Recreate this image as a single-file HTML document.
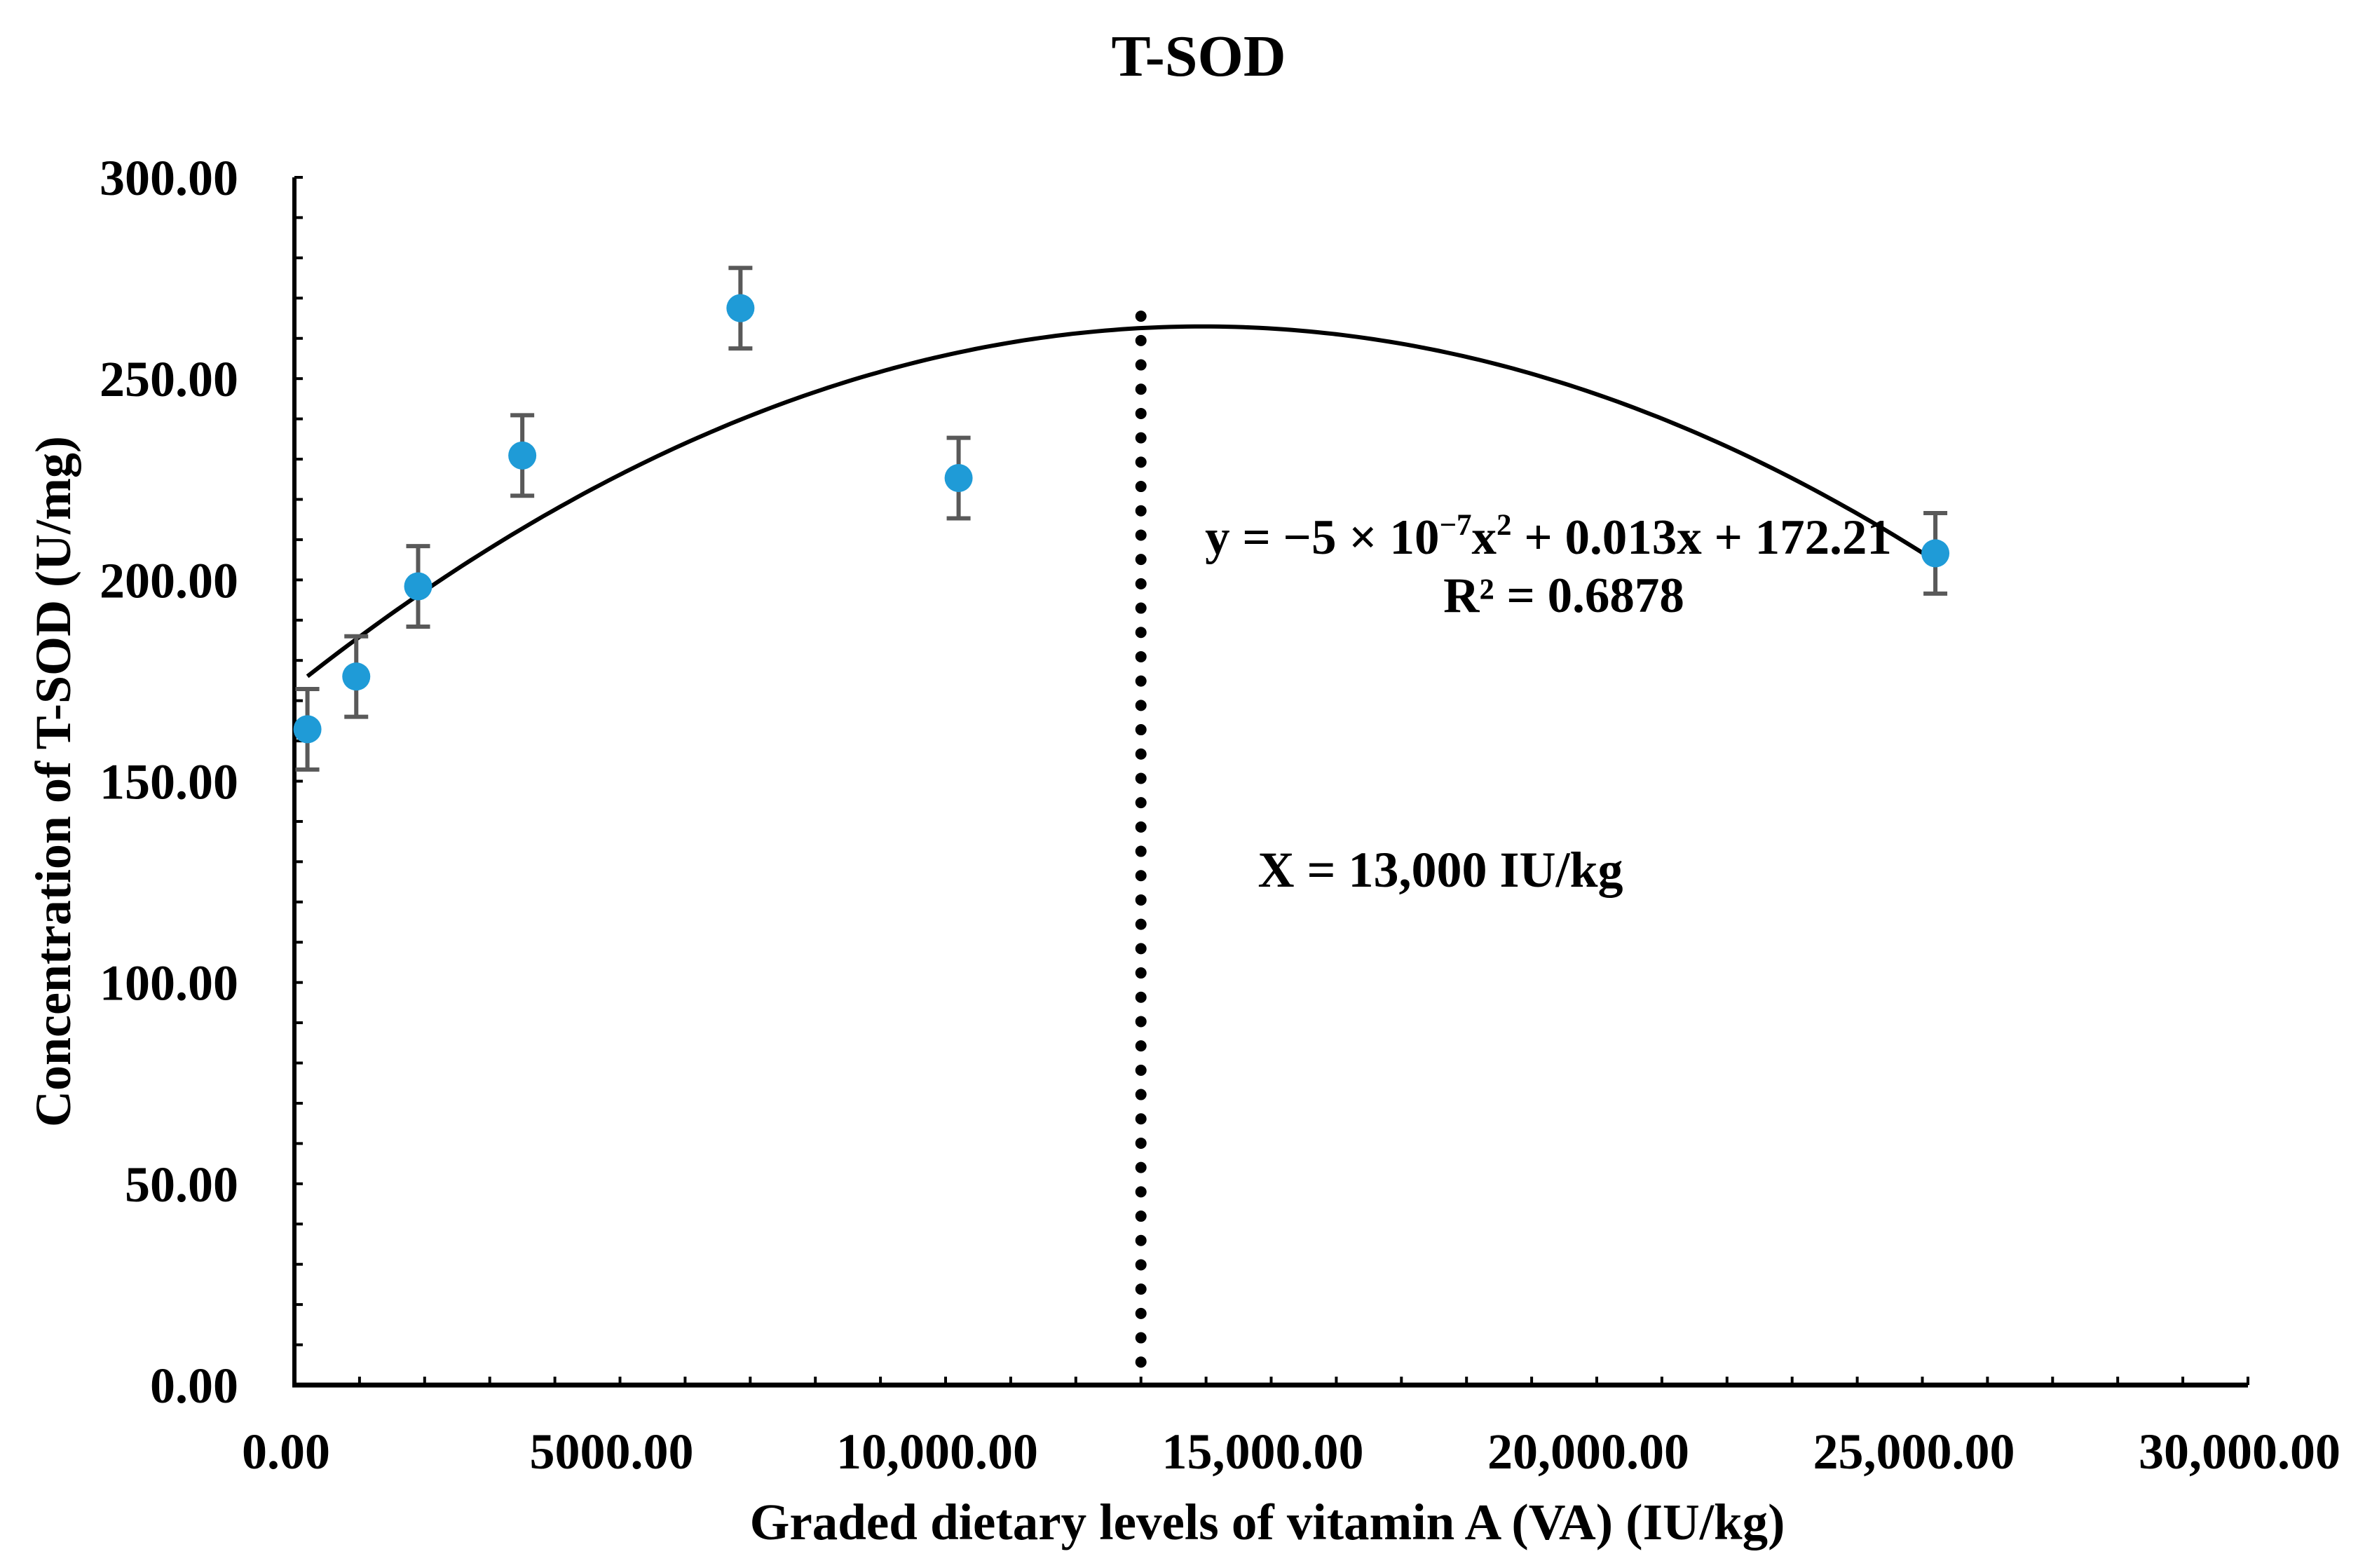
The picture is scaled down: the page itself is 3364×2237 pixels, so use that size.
<!DOCTYPE html>
<html><head><meta charset="utf-8">
<style>
html,body{margin:0;padding:0;background:#fff;}
svg{display:block;}
text{font-family:"Liberation Serif",serif;font-weight:bold;fill:#000;}
</style></head>
<body>
<svg id="chart" width="3364" height="2237" viewBox="0 0 3364 2237" xmlns="http://www.w3.org/2000/svg">
<text x="1710" y="108" font-size="84" text-anchor="middle">T-SOD</text>
<g id="axes"></g>
<g id="marks"></g>
<text x="1808" y="2196" font-size="73" text-anchor="middle">Graded dietary levels of vitamin A (VA) (IU/kg)</text>
<text transform="translate(100,1115) rotate(-90)" font-size="72" text-anchor="middle">Concentration of T-SOD (U/mg)</text>
<text x="2209" y="790" font-size="71" text-anchor="middle">y = −5 × 10<tspan font-size="43" dy="-27">−7</tspan><tspan dy="27">x</tspan><tspan font-size="43" dy="-27">2</tspan><tspan dy="27"> + 0.013x + 172.21</tspan></text>
<text x="2231" y="873" font-size="71" text-anchor="middle">R² = 0.6878</text>
<text x="2055" y="1265" font-size="72" text-anchor="middle">X = 13,000 IU/kg</text>
</svg>
<script>
const xValues = [200, 950, 1900, 3500, 6850, 10200, 25200];
const yValues = [162.9, 176.0, 198.4, 230.9, 267.5, 225.3, 206.6];
const yErrors = [10, 10, 10, 10, 10, 10, 10];
const yTicks = [0, 50, 100, 150, 200, 250, 300];
const yTickLabels = ["0.00","50.00","100.00","150.00","200.00","250.00","300.00"];
const xTicks = [0, 5000, 10000, 15000, 20000, 25000, 30000];
const xTickLabels = ["0.00","5000.00","10,000.00","15,000.00","20,000.00","25,000.00","30,000.00"];
const trendCoef = [-4.6e-7, 0.01283, 173.5];
const trendRange = [200, 25200];
const optimumX = [13000];
const optimumTop = [265.5];

const NS = "http://www.w3.org/2000/svg";
const X0 = 420, X1 = 3207, Y0 = 1976, Y1 = 253;
const sx = v => X0 + (v / 30000) * (X1 - X0);
const sy = v => Y0 - (v / 300) * (Y0 - Y1);
function mk(tag, attrs, parent) {
  const e = document.createElementNS(NS, tag);
  for (const k in attrs) e.setAttribute(k, attrs[k]);
  parent.appendChild(e);
  return e;
}
const axes = document.getElementById('axes');
const marks = document.getElementById('marks');

let el = mk('line', {x1: X0, y1: Y1, x2: X0, y2: Y0 + 3, stroke: '#000', 'stroke-width': 6}, axes);


el = mk('line', {x1: X0 - 3, y1: Y0, x2: X1, y2: Y0, stroke: '#000', 'stroke-width': 7}, axes);



for (let v = 0; v <= 300; v += 10) {
  const t = mk('line', {x1: X0, y1: sy(v), x2: X0 + 12, y2: sy(v), stroke: '#000', 'stroke-width': 4}, axes);
  
  
}
for (let v = 1000; v <= 30000; v += 1000) {
  const t = mk('line', {x1: sx(v), y1: Y0, x2: sx(v), y2: Y0 - 12, stroke: '#000', 'stroke-width': 4}, axes);
  
  
}
yTicks.forEach((v, i) => {
  const t = mk('text', {x: 340, y: sy(v) + 25, 'font-size': 72, 'text-anchor': 'end'}, axes);
  t.textContent = yTickLabels[i];
  
  
});
xTicks.forEach((v, i) => {
  const t = mk('text', {x: sx(v) - 12, y: 2095, 'font-size': 72, 'text-anchor': 'middle'}, axes);
  t.textContent = xTickLabels[i];
  
  
});

let d = '';
for (let i = 0; i <= 200; i++) {
  const x = trendRange[0] + (trendRange[1] - trendRange[0]) * i / 200;
  const y = trendCoef[0] * x * x + trendCoef[1] * x + trendCoef[2];
  d += (i ? 'L' : 'M') + sx(x).toFixed(1) + ' ' + sy(y).toFixed(1);
}
el = mk('path', {d: d, fill: 'none', stroke: '#000', 'stroke-width': 6}, marks);



el = mk('line', {x1: sx(optimumX[0]), y1: sy(optimumTop[0]), x2: sx(optimumX[0]), y2: Y0 - 6, stroke: '#000', 'stroke-width': 16, 'stroke-linecap': 'round', 'stroke-dasharray': '0 34.7'}, marks);



xValues.forEach((xv, i) => {
  const cx = sx(xv), cy = sy(yValues[i]);
  const top = sy(yValues[i] + yErrors[i]), bot = sy(yValues[i] - yErrors[i]);
  const g = mk('g', {}, marks);
  
  
  let e = mk('path', {d: `M${cx} ${top}V${bot}M${cx-17} ${top}H${cx+17}M${cx-17} ${bot}H${cx+17}`, stroke: '#595959', 'stroke-width': 6, fill: 'none'}, g);
  
  
  e = mk('circle', {cx: cx, cy: cy, r: 20, fill: '#1f9bd7'}, g);
  
  
});
</script>
</body></html>
